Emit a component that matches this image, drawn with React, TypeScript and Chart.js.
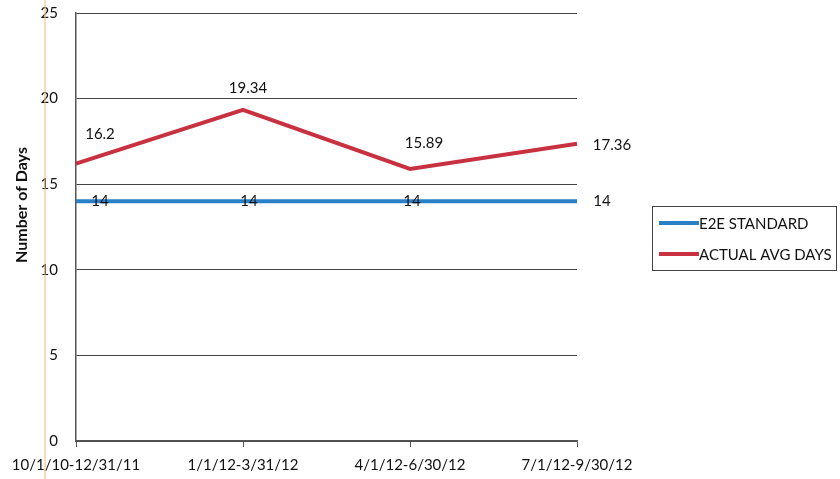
import React, { useEffect, useRef } from "react";
import { Chart, registerables } from "chart.js";

Chart.register(...registerables);

const categories = ["10/1/10-12/31/11", "1/1/12-3/31/12", "4/1/12-6/30/12", "7/1/12-9/30/12"];
const standardValues = [14, 14, 14, 14];
const actualValues = [16.2, 19.34, 15.89, 17.36];
const standardLabel = "E2E STANDARD";
const actualLabel = "ACTUAL AVG DAYS";
const yTitle = "Number of Days";

// label offsets (px) relative to each point
const standardOffsets = [[24, 0], [6, 0], [2, 0], [25, 0]];
const actualOffsets = [[24, -29], [5, -22], [14, -26], [35, 1]];

const FONT = "Lato, 'Open Sans', sans-serif";
const BLUE = "#2a80c6";
const RED = "#c83140";

const overlay = {
  id: "overlay",
  afterDatasetsDraw(chart: any) {
    const ctx = chart.ctx;
    const x = chart.scales.x;
    const y = chart.scales.y;
    ctx.save();
    // data labels
    ctx.font = `15px ${FONT}`;
    ctx.fillStyle = "#111";
    ctx.textAlign = "center";
    ctx.textBaseline = "middle";
    standardValues.forEach((v, i) => {
      const px = x.getPixelForValue(i) + standardOffsets[i][0];
      const py = y.getPixelForValue(v) + standardOffsets[i][1];
      ctx.fillText(String(v), px, py);
    });
    actualValues.forEach((v, i) => {
      const px = x.getPixelForValue(i) + actualOffsets[i][0];
      const py = y.getPixelForValue(v) + actualOffsets[i][1];
      ctx.fillText(String(v), px, py);
    });
    // y axis title
    ctx.save();
    ctx.translate(22, 205);
    ctx.rotate(-Math.PI / 2);
    ctx.font = `bold 16px ${FONT}`;
    ctx.fillStyle = "#111";
    ctx.fillText(yTitle, 0, 0);
    ctx.restore();
    // legend box
    const lx = 652, ly = 206, lw = 184, lh = 64;
    ctx.strokeStyle = "#444";
    ctx.lineWidth = 1;
    ctx.strokeRect(lx + 0.5, ly + 0.5, lw, lh);
    const entries = [
      [standardLabel, BLUE, ly + 17],
      [actualLabel, RED, ly + 48],
    ];
    entries.forEach(([label, color, yy]: any) => {
      ctx.strokeStyle = color;
      ctx.lineWidth = 4;
      ctx.beginPath();
      ctx.moveTo(lx + 7, yy);
      ctx.lineTo(lx + 47, yy);
      ctx.stroke();
      ctx.fillStyle = "#111";
      ctx.textAlign = "left";
      ctx.font = `15px ${FONT}`;
      ctx.fillText(label, lx + 47, yy + 1);
    });
    // scan artifact line
    ctx.strokeStyle = "rgba(235,190,130,0.7)";
    ctx.lineWidth = 1.5;
    ctx.beginPath();
    ctx.moveTo(45, 0);
    ctx.lineTo(45, 479);
    ctx.stroke();
    ctx.restore();
  },
};

export default function App() {
  const ref = useRef<HTMLCanvasElement>(null);
  useEffect(() => {
    const chart = new Chart(ref.current!, {
      type: "line",
      data: {
        labels: categories,
        datasets: [
          {
            label: standardLabel,
            data: standardValues,
            borderColor: BLUE,
            backgroundColor: BLUE,
            borderWidth: 4,
            pointRadius: 0,
            tension: 0,
          },
          {
            label: actualLabel,
            data: actualValues,
            borderColor: RED,
            backgroundColor: RED,
            borderWidth: 4,
            pointRadius: 0,
            tension: 0,
          },
        ],
      },
      options: {
        animation: false,
        responsive: false,
        maintainAspectRatio: false,
        layout: { padding: { left: 0, top: 13, right: 263, bottom: 0 } },
        plugins: { legend: { display: false }, tooltip: { enabled: false } },
        scales: {
          x: {
            offset: false,
            grid: {
              drawOnChartArea: false,
              drawTicks: true,
              tickLength: 6,
              color: "#555",
            },
            border: { color: "#555", width: 1.5 },
            ticks: {
              color: "#111",
              font: { family: FONT, size: 15 },
              padding: 9,
              maxRotation: 0,
              autoSkip: false,
            },
            afterFit(scale: any) {
              scale.height = 38;
              scale.paddingTop = 0;
              scale.paddingBottom = 0;
            },
          },
          y: {
            min: 0,
            max: 25,
            ticks: {
              stepSize: 5,
              color: "#111",
              font: { family: FONT, size: 15 },
              padding: 18,
            },
            grid: { color: "#444", lineWidth: 1, drawTicks: false },
            border: { color: "#555", width: 1.5 },
            afterFit(scale: any) {
              scale.width = 76;
              scale.paddingTop = 0;
              scale.paddingBottom = 0;
            },
          },
        },
      },
      plugins: [overlay],
    });
    return () => chart.destroy();
  }, []);
  return (
    <div style={{ position: "absolute", left: 0, top: 0, width: 840, height: 479, background: "#fff" }}>
      <canvas ref={ref} width={840} height={479} />
    </div>
  );
}
